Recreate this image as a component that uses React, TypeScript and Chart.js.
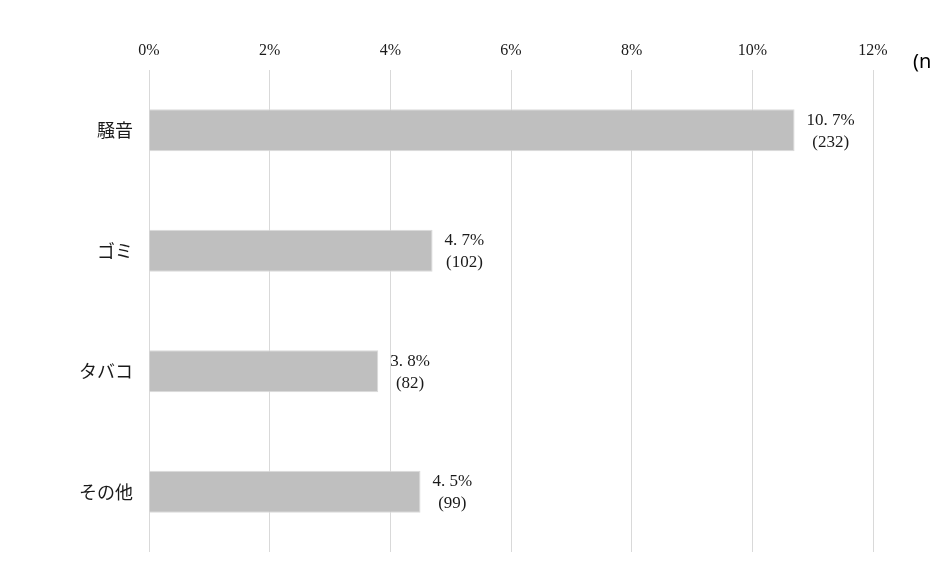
import React, { useEffect, useRef } from "react";
import { Chart, registerables } from "chart.js";

Chart.register(...registerables);

const categories = ["騒音", "ゴミ", "タバコ", "その他"];
const percentValues = [10.7, 4.7, 3.8, 4.5];
const percentLabels = ["10. 7%", "4. 7%", "3. 8%", "4. 5%"];
const countLabels = ["(232)", "(102)", "(82)", "(99)"];
const xTicks = [0, 2, 4, 6, 8, 10, 12];
const sampleNote = "(n=2,170)";

const SERIF = "'Liberation Serif', 'Noto Sans CJK JP', serif";

const labelPlugin = {
  id: "barLabels",
  afterDatasetsDraw(chart: any) {
    const ctx = chart.ctx;
    const meta = chart.getDatasetMeta(0);
    ctx.save();
    ctx.fillStyle = "#1a1a1a";
    ctx.font = `17px ${SERIF}`;
    ctx.textBaseline = "middle";
    ctx.textAlign = "center";
    meta.data.forEach((bar: any, i: number) => {
      const l1 = percentLabels[i];
      const l2 = countLabels[i];
      const w = Math.max(ctx.measureText(l1).width, ctx.measureText(l2).width);
      const cx = bar.x + 12 + w / 2;
      ctx.fillText(l1, cx, bar.y - 10);
      ctx.fillText(l2, cx, bar.y + 12);
    });
    ctx.font = "20px 'Noto Sans', 'DejaVu Sans', sans-serif";
    ctx.textAlign = "left";
    ctx.fillStyle = "#000";
    ctx.fillText(sampleNote, 913, 62);
    ctx.restore();
  },
};

export default function App() {
  const ref = useRef<HTMLCanvasElement>(null);
  useEffect(() => {
    const chart = new Chart(ref.current!, {
      type: "bar",
      data: {
        labels: categories,
        datasets: [
          {
            data: percentValues,
            backgroundColor: "#bfbfbf",
            borderColor: "#dadada",
            borderWidth: 1,
            barPercentage: 0.7,
            categoryPercentage: 0.5,
          },
        ],
      },
      options: {
        indexAxis: "y",
        animation: false,
        responsive: false,
        maintainAspectRatio: false,
        layout: { padding: { left: 0, right: 58, top: 0, bottom: 9 } },
        plugins: { legend: { display: false }, tooltip: { enabled: false } },
        scales: {
          x: {
            position: "top",
            min: 0,
            max: 12,
            afterBuildTicks: (scale: any) => {
              scale.ticks = xTicks.map((v) => ({ value: v }));
            },
            afterFit: (scale: any) => {
              scale.height = 70;
              scale.paddingLeft = 0;
              scale.paddingRight = 0;
            },
            ticks: {
              callback: (v: any) => `${v}%`,
              font: { family: SERIF, size: 16 },
              color: "#1a1a1a",
              padding: 10,
            },
            grid: { color: "#d9d9d9", lineWidth: 1, drawTicks: false },
            border: { display: false },
          },
          y: {
            afterFit: (scale: any) => {
              scale.width = 149;
              scale.paddingTop = 0;
              scale.paddingBottom = 0;
            },
            ticks: {
              font: { family: "'Noto Sans CJK JP', sans-serif", size: 18 },
              color: "#1a1a1a",
              padding: 16,
            },
            grid: { display: false, drawTicks: false },
            border: { display: false },
          },
        },
      },
      plugins: [labelPlugin],
    } as any);
    return () => chart.destroy();
  }, []);
  return (
    <div style={{ position: "fixed", left: 0, top: 0, width: 931, height: 561, background: "#fff" }}>
      <canvas ref={ref} width={931} height={561} style={{ display: "block" }} />
    </div>
  );
}
